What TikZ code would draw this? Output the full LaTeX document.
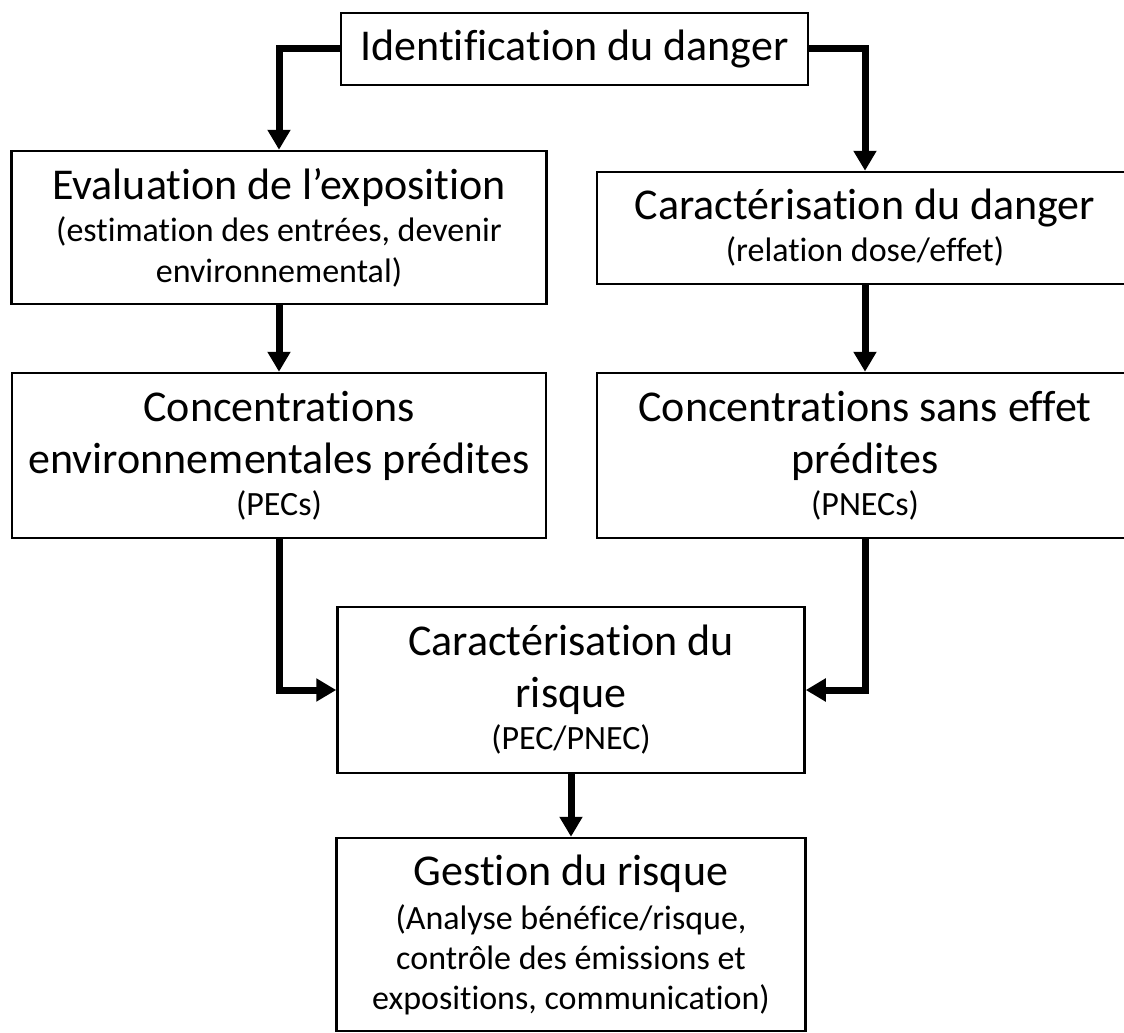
\documentclass[tikz,border=0pt]{standalone}
\usepackage{fontspec}
\setmainfont{Carlito}[Ligatures={NoCommon}]
\usetikzlibrary{arrows.meta}
\newcommand{\petit}{\fontsize{34}{39}\selectfont}

\begin{document}
\begin{tikzpicture}[x=1pt,y=-1pt,
    boite/.style={draw,line width=2.5pt,align=center,inner sep=0pt,font=\fontsize{44}{52}\selectfont},
    fleche/.style={line width=7pt,-{Triangle[length=20pt,width=22pt]}}]
    \useasboundingbox (0,0) rectangle (1124,1033);
    \node[boite,minimum width=467pt,minimum height=72pt] (ident) at (574.5,49) {Identification du danger};
    \node[boite,minimum width=535pt,minimum height=153pt] (eval) at (279,227.5)
        {Evaluation de l’exposition\\[-10pt] {\petit (estimation des entrées, devenir}\\[-11pt] {\petit environnemental)}};
    \node[boite,minimum width=536pt,minimum height=112pt] (dang) at (865,228)
        {Caractérisation du danger\\[-10pt] {\petit (relation dose/effet)}};
    \node[boite,minimum width=534pt,minimum height=165pt] (pec) at (279,455.5)
        {Concentrations\\ environnementales prédites\\[-10pt] {\petit (PECs)}};
    \node[boite,minimum width=536pt,minimum height=165pt] (pnec) at (865,455.5)
        {Concentrations sans effet\\ prédites\\[-10pt] {\petit (PNECs)}};
    \node[boite,minimum width=467pt,minimum height=166pt] (risk) at (571,690)
        {Caractérisation du\\ risque\\[-10pt] {\petit (PEC/PNEC)}};
    \node[boite,minimum width=469pt,minimum height=193pt] (gest) at (571,934.5)
        {Gestion du risque\\[-8pt] {\petit (Analyse bénéfice/risque,}\\[-12pt] {\petit contrôle des émissions et}\\[-12pt] {\petit expositions, communication)}};
    \draw[fleche] (ident.west) -| (eval.north);
    \draw[fleche] (ident.east) -| (dang.north);
    \draw[fleche] (eval.south) -- (pec.north);
    \draw[fleche] (dang.south) -- (pnec.north);
    \draw[fleche] (pec.south) |- (risk.west);
    \draw[fleche] (pnec.south) |- (risk.east);
    \draw[fleche] (risk.south) -- (gest.north);
\end{tikzpicture}
\end{document}
